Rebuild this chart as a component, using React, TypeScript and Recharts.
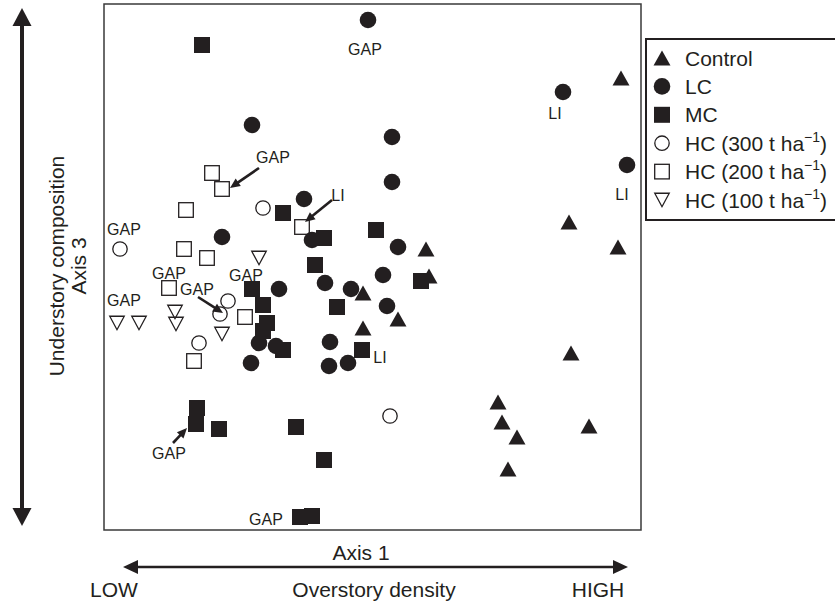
import React from 'react';
import { ScatterChart, Scatter, XAxis, YAxis, ReferenceArea, ReferenceLine, Legend } from 'recharts';

const INK = '#231f20';
const FONT = '"Liberation Sans", Arial, Helvetica, sans-serif';

// Ordination scores (arbitrary units)
const controlPts = [
  { x: 517, y: 452 }, { x: 465, y: 308 }, { x: 514, y: 283 }, { x: 322, y: 281 },
  { x: 325, y: 254 }, { x: 259, y: 237 }, { x: 294, y: 211 }, { x: 259, y: 202 },
  { x: 467, y: 177 }, { x: 394, y: 128 }, { x: 398, y: 108 }, { x: 413, y: 93 },
  { x: 485, y: 104 }, { x: 404, y: 61 },
];
const lcPts = [
  { x: 264, y: 510 }, { x: 459, y: 438 }, { x: 148, y: 405 }, { x: 288, y: 393 },
  { x: 523, y: 365 }, { x: 288, y: 348 }, { x: 200, y: 331 }, { x: 118, y: 293 },
  { x: 208, y: 290 }, { x: 294, y: 283 }, { x: 279, y: 255 }, { x: 175, y: 241 },
  { x: 221, y: 247 }, { x: 247, y: 241 }, { x: 283, y: 224 }, { x: 155, y: 187 },
  { x: 172, y: 184 }, { x: 226, y: 188 }, { x: 147, y: 167 }, { x: 225, y: 164 },
  { x: 244, y: 167 },
];
const mcPts = [
  { x: 98, y: 485 }, { x: 179, y: 317 }, { x: 220, y: 292 }, { x: 272, y: 300 },
  { x: 211, y: 265 }, { x: 148, y: 241 }, { x: 159, y: 225 }, { x: 233, y: 223 },
  { x: 163, y: 207 }, { x: 159, y: 199 }, { x: 179, y: 180 }, { x: 258, y: 180 },
  { x: 317, y: 249 }, { x: 93, y: 122 }, { x: 92, y: 106 }, { x: 115, y: 101 },
  { x: 192, y: 103 }, { x: 220, y: 70 }, { x: 196, y: 13 }, { x: 208, y: 14 },
];
const hc300Pts = [
  { x: 159, y: 322 }, { x: 16, y: 281 }, { x: 124, y: 229 }, { x: 116, y: 216 },
  { x: 95, y: 187 }, { x: 286, y: 114 },
];
const hc200Pts = [
  { x: 108, y: 357 }, { x: 118, y: 341 }, { x: 82, y: 320 }, { x: 198, y: 303 },
  { x: 80, y: 281 }, { x: 103, y: 272 }, { x: 65, y: 242 }, { x: 141, y: 213 },
  { x: 90, y: 169 },
];
const hc100Pts = [
  { x: 155, y: 272 }, { x: 13, y: 207 }, { x: 35, y: 207 }, { x: 71, y: 218 },
  { x: 72, y: 206 }, { x: 118, y: 196 },
];

const siteLabels = [
  { x: 261, y: 481, text: 'GAP' }, { x: 451, y: 417, text: 'LI' }, { x: 518, y: 336, text: 'LI' },
  { x: 169, y: 373, text: 'GAP' }, { x: 234, y: 335, text: 'LI' }, { x: 20, y: 301, text: 'GAP' },
  { x: 65, y: 257, text: 'GAP' }, { x: 142, y: 255, text: 'GAP' }, { x: 93, y: 241, text: 'GAP' },
  { x: 20, y: 230, text: 'GAP' }, { x: 276, y: 173, text: 'LI' }, { x: 65, y: 77, text: 'GAP' },
  { x: 162, y: 11, text: 'GAP' },
];
const pointerArrows = [
  { x1: 155, y1: 362, x2: 126, y2: 342 },
  { x1: 228, y1: 330, x2: 201, y2: 308 },
  { x1: 94, y1: 233, x2: 119, y2: 217 },
  { x1: 69, y1: 87, x2: 83, y2: 102 },
];

const xDomain = [0, 537];
const yDomain = [0, 526];

const series = [
  { name: 'Control', kind: 'triFill', data: controlPts },
  { name: 'LC', kind: 'circFill', data: lcPts },
  { name: 'MC', kind: 'sqFill', data: mcPts },
  { name: 'HC (300 t ha−1)', kind: 'circOpen', data: hc300Pts },
  { name: 'HC (200 t ha−1)', kind: 'sqOpen', data: hc200Pts },
  { name: 'HC (100 t ha−1)', kind: 'triOpen', data: hc100Pts },
];

function Marker({ kind, cx, cy }: { kind: string; cx: number; cy: number }) {
  if (cx == null || cy == null) return null;
  switch (kind) {
    case 'triFill': {
      const s = 17, h = 15;
      return <polygon points={`${cx},${cy - h / 2} ${cx - s / 2},${cy + h / 2} ${cx + s / 2},${cy + h / 2}`} fill={INK} />;
    }
    case 'circFill':
      return <circle cx={cx} cy={cy} r={8.3} fill={INK} />;
    case 'sqFill':
      return <rect x={cx - 8} y={cy - 8} width={16} height={16} fill={INK} />;
    case 'circOpen':
      return <circle cx={cx} cy={cy} r={7.2} fill="none" stroke={INK} strokeWidth={1.3} />;
    case 'sqOpen':
      return <rect x={cx - 7.3} y={cy - 7.3} width={14.6} height={14.6} fill="none" stroke={INK} strokeWidth={1.3} />;
    case 'triOpen': {
      const s = 14.5, h = 13.5;
      return <polygon points={`${cx - s / 2},${cy - h / 2} ${cx + s / 2},${cy - h / 2} ${cx},${cy + h / 2}`} fill="none" stroke={INK} strokeWidth={1.3} strokeLinejoin="miter" />;
    }
    default:
      return null;
  }
}

function ArrowShape(props: any) {
  const { x1, y1, x2, y2 } = props;
  const dx = x2 - x1, dy = y2 - y1;
  const len = Math.hypot(dx, dy) || 1;
  const ux = dx / len, uy = dy / len;
  const hl = 10, hw = 4.5;
  const bx = x2 - ux * hl, by = y2 - uy * hl;
  return (
    <g>
      <line x1={x1} y1={y1} x2={bx + ux * 1} y2={by + uy * 1} stroke={INK} strokeWidth={2.6} />
      <polygon points={`${x2},${y2} ${bx - uy * hw},${by + ux * hw} ${bx + uy * hw},${by - ux * hw}`} fill={INK} />
    </g>
  );
}

function SiteLabel(props: any) {
  const { cx, cy, payload } = props;
  if (cx == null || cy == null) return null;
  return (
    <text x={cx} y={cy} dy="0.36em" textAnchor="middle" fontSize={16} fontFamily={FONT} fill={INK}>
      {payload.text}
    </text>
  );
}

function XAxisLabel(props: any) {
  const vb = props.viewBox || { x: 104, y: 530, width: 537, height: 75 };
  const left = vb.x, right = vb.x + vb.width, top = vb.y;
  const ay = top + 37;
  const ax1 = left + 19, ax2 = right - 13;
  const hl = 15, hw = 7;
  return (
    <g fontFamily={FONT} fill={INK}>
      <line x1={ax1 + hl - 1} y1={ay} x2={ax2 - hl + 1} y2={ay} stroke={INK} strokeWidth={2.6} />
      <polygon points={`${ax1},${ay} ${ax1 + hl},${ay - hw} ${ax1 + hl},${ay + hw}`} fill={INK} />
      <polygon points={`${ax2},${ay} ${ax2 - hl},${ay - hw} ${ax2 - hl},${ay + hw}`} fill={INK} />
      <text x={left + 257} y={top + 30} textAnchor="middle" fontSize={21}>Axis 1</text>
      <text x={left + 10} y={top + 67} textAnchor="middle" fontSize={21}>LOW</text>
      <text x={left + 270} y={top + 67} textAnchor="middle" fontSize={21}>Overstory density</text>
      <text x={right - 43} y={top + 67} textAnchor="middle" fontSize={21}>HIGH</text>
    </g>
  );
}

function YAxisLabel(props: any) {
  const vb = props.viewBox || { x: 0, y: 4, width: 104, height: 526 };
  const top = vb.y, bottom = vb.y + vb.height;
  const ax = 22;
  const t1 = top + 4, t2 = bottom - 4;
  const hl = 18, hw = 9.5;
  const cy = (top + bottom) / 2 - 1;
  return (
    <g fontFamily={FONT} fill={INK}>
      <line x1={ax} y1={t1 + hl - 1} x2={ax} y2={t2 - hl + 1} stroke={INK} strokeWidth={4} />
      <polygon points={`${ax},${t1} ${ax - hw},${t1 + hl} ${ax + hw},${t1 + hl}`} fill={INK} />
      <polygon points={`${ax},${t2} ${ax - hw},${t2 - hl} ${ax + hw},${t2 - hl}`} fill={INK} />
      <text x={64} y={cy} transform={`rotate(-90, 64, ${cy})`} textAnchor="middle" fontSize={21}>Understory composition</text>
      <text x={86} y={cy} transform={`rotate(-90, 86, ${cy})`} textAnchor="middle" fontSize={21}>Axis 3</text>
    </g>
  );
}

function LegendLabel({ name, x, y }: { name: string; x: number; y: number }) {
  const idx = name.indexOf('−1');
  if (idx < 0) {
    return <text x={x} y={y} dy="0.36em" fontSize={21} fontFamily={FONT} fill={INK}>{name}</text>;
  }
  const base = name.slice(0, idx);
  const rest = name.slice(idx + 2);
  return (
    <text x={x} y={y} dy="0.36em" fontSize={21} fontFamily={FONT} fill={INK}>
      {base}
      <tspan fontSize={14} dy={-9}>−1</tspan>
      <tspan fontSize={21} dy={9}>{rest}</tspan>
    </text>
  );
}

function seriesIndex(name: string) {
  const i = series.findIndex((s) => s.name === name);
  return i < 0 ? 99 : i;
}

function renderLegend(props: any) {
  const payload = (props.payload || [])
    .filter((p: any) => p.type !== 'none' && seriesIndex(p.value) < 99)
    .slice()
    .sort((a: any, b: any) => seriesIndex(a.value) - seriesIndex(b.value));
  const W = 190, H = 183;
  return (
    <svg width={W} height={H} style={{ display: 'block', overflow: 'visible' }}>
      <path d={`M${W},1 H1 V${H - 1} H${W}`} fill="none" stroke={INK} strokeWidth={2} />
      {payload.map((entry: any, i: number) => {
        const s = series[seriesIndex(entry.value)];
        const y = 20 + i * 28.4;
        return (
          <g key={entry.value}>
            <Marker kind={s ? s.kind : 'circFill'} cx={17} cy={y} />
            <LegendLabel name={entry.value} x={40} y={y} />
          </g>
        );
      })}
    </svg>
  );
}

export default function App() {
  return (
    <div style={{ position: 'absolute', left: 0, top: 0, width: 835, height: 605, background: '#fff' }}>
      <ScatterChart width={835} height={605} margin={{ top: 4, right: 194, bottom: 0, left: 0 }}>
        <XAxis
          type="number"
          dataKey="x"
          domain={xDomain}
          height={75}
          axisLine={false}
          tickLine={false}
          tick={false}
          allowDataOverflow
          label={{ content: XAxisLabel }}
        />
        <YAxis
          type="number"
          dataKey="y"
          domain={yDomain}
          width={104}
          axisLine={false}
          tickLine={false}
          tick={false}
          allowDataOverflow
          label={{ content: YAxisLabel }}
        />
        <ReferenceArea
          x1={xDomain[0]}
          x2={xDomain[1]}
          y1={yDomain[0]}
          y2={yDomain[1]}
          fill="none"
          fillOpacity={0}
          stroke="#3a3a3a"
          strokeWidth={1.5}
          ifOverflow="visible"
        />
        {pointerArrows.map((a, i) => (
          <ReferenceLine
            key={i}
            segment={[{ x: a.x1, y: a.y1 }, { x: a.x2, y: a.y2 }]}
            shape={ArrowShape}
            ifOverflow="visible"
          />
        ))}
        {series.map((s) => (
          <Scatter
            key={s.name}
            name={s.name}
            data={s.data}
            fill={INK}
            isAnimationActive={false}
            shape={(p: any) => <Marker kind={s.kind} cx={p.cx} cy={p.cy} />}
          />
        ))}
        <Scatter
          name="labels"
          data={siteLabels}
          legendType="none"
          isAnimationActive={false}
          shape={SiteLabel}
        />
        <Legend
          layout="vertical"
          align="center"
          verticalAlign="middle"
          itemSorter={null as any}
          content={renderLegend}
          wrapperStyle={{ position: 'absolute', left: 645, top: 38, width: 190, height: 183 }}
        />
      </ScatterChart>
    </div>
  );
}
